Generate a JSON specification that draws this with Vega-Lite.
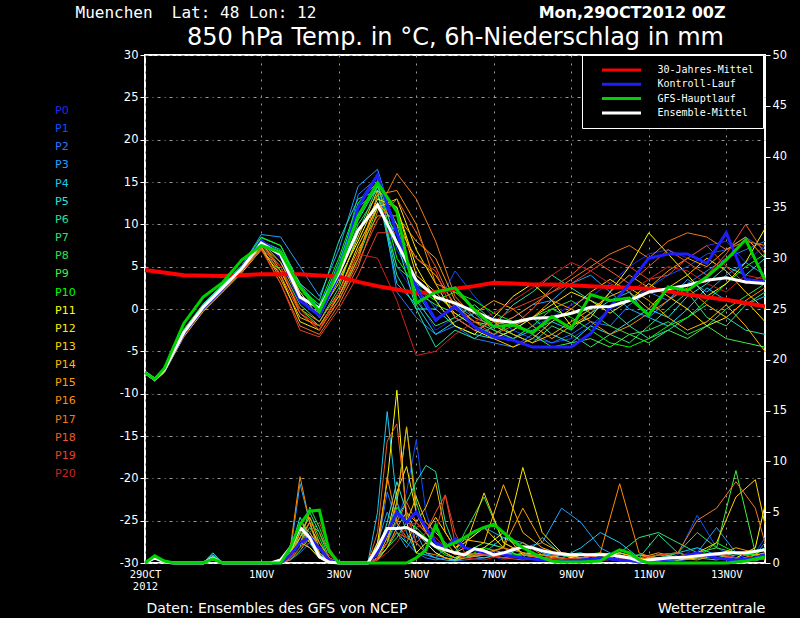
{
  "$schema": "https://vega.github.io/schema/vega-lite/v6.json",
  "description": "GFS ensemble for Muenchen: 850 hPa temperature and 6h precipitation, run 29 Oct 2012 00Z.",
  "width": 620,
  "height": 508,
  "autosize": {"type": "none"},
  "padding": {"left": 145, "top": 55, "right": 35, "bottom": 55},
  "background": "black",
  "config": {
    "font": "DejaVu Sans",
    "view": {"stroke": "white", "strokeWidth": 2, "fill": "black"},
    "axis": {
      "labelColor": "white",
      "titleColor": "white",
      "tickColor": "white",
      "labelFont": "DejaVu Sans",
      "titleFont": "DejaVu Sans",
      "titleFontWeight": "normal",
      "domain": false
    },
    "legend": {"labelColor": "white", "labelFont": "DejaVu Sans"}
  },
  "datasets": {
    "members": [
      {"m": "P0", "th": [0,6,12,24,36,48,60,72,84,96,108,120,132,144,156,168,180,192,204,216,228,240,252,264,276,288,300,312,324,336,348,360,372,384], "T": [-7.5,-8.3,-7.2,-2.8,0.2,2.5,4.8,7.9,6.0,1.0,-0.5,3.5,11.0,15.0,5.0,1.5,-2.5,-1.0,-2.5,-3.0,-3.5,-2.0,-1.0,0.5,1.5,3.0,5.0,6.5,7.0,6.0,7.5,8.0,5.5,7.5], "ph": [0,6,12,18,36,42,48,84,90,96,102,108,114,120,138,144,150,156,162,168,174,180,186,192,198,210,222,234,246,258,270,282,294,306,318,330,342,354,366,378,384], "P": [0,0.4,0.1,0,0,0.5,0,0,0.8,2.5,1.5,0.5,0.2,0,0,1.0,3.0,6.0,4.0,2.0,1.0,0.5,0.8,0.3,0.5,1.0,0.3,0.8,1.5,0.4,0.2,0.5,0.3,0,0.2,0.5,1.5,0.8,0.3,0.6,1.0]},
      {"m": "P1", "th": [0,6,12,24,36,48,60,72,84,96,108,120,132,144,156,168,180,192,204,216,228,240,252,264,276,288,300,312,324,336,348,360,372,384], "T": [-7.5,-8.2,-7.1,-2.6,0.4,2.7,5.0,8.2,6.5,2.0,0.5,5.0,12.5,16.0,7.0,3.0,0.0,4.5,1.5,-1.0,-2.5,-3.5,-4.0,-3.5,-2.0,0.0,1.0,2.5,4.0,5.0,6.5,7.0,8.5,7.0], "ph": [0,6,12,18,36,42,48,84,90,96,102,108,114,120,138,144,150,156,162,168,174,180,186,192,198,210,222,234,246,258,270,282,294,306,318,330,342,354,366,378,384], "P": [0,0.5,0.2,0,0,0.4,0,0,0.5,1.5,3.0,1.0,0.3,0,0,0.5,2.0,4.0,7.0,12.1,5.0,2.0,1.0,0.5,1.0,2.0,1.5,0.5,0.8,1.0,0.3,0.2,0.5,0.3,0.2,0.8,4.7,1.5,0.5,1.0,2.5]},
      {"m": "P2", "th": [0,6,12,24,36,48,60,72,84,96,108,120,132,144,156,168,180,192,204,216,228,240,252,264,276,288,300,312,324,336,348,360,372,384], "T": [-7.6,-8.4,-7.3,-3.0,0.0,2.3,4.6,7.5,5.5,1.5,-1.0,4.0,13.5,15.5,2.0,-1.0,-3.0,-2.0,-3.5,-4.0,-4.5,-3.0,-4.0,-3.0,-1.5,-2.0,0.5,2.0,1.0,3.0,4.5,6.0,7.0,8.0], "ph": [0,6,12,18,36,42,48,84,90,96,102,108,114,120,138,144,150,156,162,168,174,180,186,192,198,210,222,234,246,258,270,282,294,306,318,330,342,354,366,378,384], "P": [0,0.6,0.1,0,0,0.3,0,0,0.3,1.0,2.0,0.8,0.1,0,0,1.5,7.0,4.0,2.0,1.0,0.5,0.3,0.5,0.2,0.3,0.5,0.8,1.5,0.5,0.3,0.2,0.4,0.8,0.5,0.3,0.2,0.5,1.0,0.5,0.3,0.8]},
      {"m": "P3", "th": [0,6,12,24,36,48,60,72,84,96,108,120,132,144,156,168,180,192,204,216,228,240,252,264,276,288,300,312,324,336,348,360,372,384], "T": [-7.5,-8.2,-7.0,-2.5,0.5,2.8,5.1,8.8,8.5,5.0,1.5,7.0,14.5,16.5,9.0,2.0,-1.5,0.5,-1.0,-2.0,-1.0,0.5,1.0,3.0,4.0,2.0,0.0,-1.0,1.0,3.5,2.0,4.0,5.5,4.0], "ph": [0,6,12,18,36,42,48,84,90,96,102,108,114,120,138,144,150,156,162,168,174,180,186,192,198,210,222,234,246,258,270,282,294,306,318,330,342,354,366,378,384], "P": [0,0.5,0.2,0,0,0.8,0,0,1.0,7.8,4.0,1.0,0.3,0,0,2.0,5.0,3.0,1.5,3.0,1.0,0.5,1.5,1.0,2.0,3.5,2.5,1.5,2.0,5.4,4.0,1.5,0.5,0.3,0.8,0.5,1.0,3.5,1.0,0.8,2.0]},
      {"m": "P4", "th": [0,6,12,24,36,48,60,72,84,96,108,120,132,144,156,168,180,192,204,216,228,240,252,264,276,288,300,312,324,336,348,360,372,384], "T": [-7.5,-8.3,-7.2,-2.7,0.3,2.6,4.9,8.0,7.0,3.0,0.0,5.5,12.0,14.0,3.0,0.5,-3.0,-1.5,-0.5,-2.5,-3.5,-2.5,-1.5,-2.5,-0.5,1.0,2.0,-1.0,-2.0,0.0,2.5,1.0,0.5,1.5], "ph": [0,6,12,18,36,42,48,84,90,96,102,108,114,120,138,144,150,156,162,168,174,180,186,192,198,210,222,234,246,258,270,282,294,306,318,330,342,354,366,378,384], "P": [0,0.4,0.1,0,0,0.5,0,0,0.5,3.0,2.0,0.5,0,0,0,5.0,14.9,6.0,3.0,1.0,0.8,0.5,0.3,0.2,0.5,1.0,2.5,2.0,1.0,0.5,1.5,3.0,2.0,0.5,0.3,1.0,1.5,0.8,0.5,0.2,0.5]},
      {"m": "P5", "th": [0,6,12,24,36,48,60,72,84,96,108,120,132,144,156,168,180,192,204,216,228,240,252,264,276,288,300,312,324,336,348,360,372,384], "T": [-7.6,-8.3,-7.3,-2.9,0.1,2.4,4.7,7.6,6.5,2.5,-0.5,4.5,10.5,14.5,8.0,0.0,0.0,-2.0,-3.0,-3.5,-2.5,-1.0,-3.0,-4.0,-2.0,-3.0,-1.5,0.0,-1.0,1.5,3.0,5.0,4.0,6.0], "ph": [0,6,12,18,36,42,48,84,90,96,102,108,114,120,138,144,150,156,162,168,174,180,186,192,198,210,222,234,246,258,270,282,294,306,318,330,342,354,366,378,384], "P": [0,0.6,0.2,0,0,1.0,0,0,1.2,4.5,2.5,0.8,0.2,0,0,1.0,4.0,8.0,5.0,3.0,2.0,1.0,0.5,0.3,0.8,0.5,1.0,0.5,0.3,0.8,1.0,0.5,0.3,0.8,0.5,0.3,0.8,1.0,0.5,0.3,0.5]},
      {"m": "P6", "th": [0,6,12,24,36,48,60,72,84,96,108,120,132,144,156,168,180,192,204,216,228,240,252,264,276,288,300,312,324,336,348,360,372,384], "T": [-7.4,-8.2,-7.0,-2.4,0.6,2.9,5.2,8.4,7.5,3.0,1.0,8.0,13.0,14.0,4.0,0.0,-4.5,-2.5,-3.5,-2.0,0.5,2.0,4.0,2.5,1.0,0.0,-2.0,-3.5,-2.5,-1.0,0.5,-1.0,-2.5,-3.0], "ph": [0,6,12,18,36,42,48,84,90,96,102,108,114,120,138,144,150,156,162,168,174,180,186,192,198,210,222,234,246,258,270,282,294,306,318,330,342,354,366,378,384], "P": [0,0.5,0.1,0,0,0.8,0,0,1.0,2.5,5.0,3.0,0.5,0,0,0.5,2.0,4.5,6.0,8.0,9.6,9.0,4.0,1.5,0.5,0.8,1.0,0.5,2.5,0.8,0.3,0.5,0.3,0.5,2.8,1.0,0.5,0.3,0.8,1.0,1.5]},
      {"m": "P7", "th": [0,6,12,24,36,48,60,72,84,96,108,120,132,144,156,168,180,192,204,216,228,240,252,264,276,288,300,312,324,336,348,360,372,384], "T": [-7.6,-8.4,-7.4,-3.1,-0.1,2.2,4.5,7.2,5.0,0.5,-1.5,2.5,9.0,14.5,10.0,1.0,-2.0,-1.0,0.5,-1.5,-3.0,-4.0,-2.0,-3.0,-4.5,-3.0,-4.0,-2.0,0.0,2.0,-1.0,-2.0,0.5,2.0], "ph": [0,6,12,18,36,42,48,84,90,96,102,108,114,120,138,144,150,156,162,168,174,180,186,192,198,210,222,234,246,258,270,282,294,306,318,330,342,354,366,378,384], "P": [0,0.4,0.1,0,0,0.6,0,0,0.8,2.0,3.5,2.0,0.5,0,0,0.3,1.5,3.0,2.0,4.0,3.0,2.0,1.0,0.5,1.0,0.8,0.5,1.0,0.5,0.3,0.5,0.8,1.0,2.5,3.0,2.0,1.0,0.5,1.0,0.8,0.5]},
      {"m": "P8", "th": [0,6,12,24,36,48,60,72,84,96,108,120,132,144,156,168,180,192,204,216,228,240,252,264,276,288,300,312,324,336,348,360,372,384], "T": [-7.5,-8.2,-7.1,-2.6,0.4,2.7,5.0,8.0,6.8,1.5,0.0,4.0,10.0,13.5,5.0,3.0,1.5,0.0,-1.5,-2.5,-3.5,-2.0,0.0,1.0,-0.5,-2.0,-3.0,-2.5,-1.5,-3.0,-2.0,0.0,1.5,3.0], "ph": [0,6,12,18,36,42,48,84,90,96,102,108,114,120,138,144,150,156,162,168,174,180,186,192,198,210,222,234,246,258,270,282,294,306,318,330,342,354,366,378,384], "P": [0,0.5,0.2,0,0,0.5,0,0,0.5,1.5,5.5,3.5,1.0,0,0,1.0,3.0,6.0,13.4,6.0,3.0,2.0,1.5,1.0,3.0,6.5,2.0,1.0,0.5,0.8,0.3,0.5,0.2,0.3,0.5,1.0,3.0,1.5,1.0,0.5,0.8]},
      {"m": "P9", "th": [0,6,12,24,36,48,60,72,84,96,108,120,132,144,156,168,180,192,204,216,228,240,252,264,276,288,300,312,324,336,348,360,372,384], "T": [-7.6,-8.5,-7.4,-3.2,-0.2,2.1,4.4,7.0,4.5,0.0,-2.0,1.5,6.0,12.0,9.0,2.0,0.5,-0.5,-2.0,-3.0,-1.5,-3.0,-4.5,-4.0,-3.5,-4.5,-3.0,-4.0,-2.5,-3.5,-2.0,-3.5,-4.0,-4.5], "ph": [0,6,12,18,36,42,48,84,90,96,102,108,114,120,138,144,150,156,162,168,174,180,186,192,198,210,222,234,246,258,270,282,294,306,318,330,342,354,366,378,384], "P": [0,0.6,0.1,0,0,0.4,0,0,0.3,1.2,2.5,1.0,0.2,0,0,0.5,1.5,2.5,4.0,5.0,3.0,1.5,1.0,0.5,1.0,2.0,1.5,0.5,0.3,0.5,0.2,0.3,0.5,0.8,0.5,0.3,1.0,1.5,9.1,1.0,0.5]},
      {"m": "P10", "th": [0,6,12,24,36,48,60,72,84,96,108,120,132,144,156,168,180,192,204,216,228,240,252,264,276,288,300,312,324,336,348,360,372,384], "T": [-7.4,-8.2,-7.0,-2.5,0.5,2.8,5.1,8.5,7.5,2.5,0.5,6.0,12.5,15.0,6.0,2.5,1.0,2.0,1.0,-0.5,-1.5,-1.0,0.0,-1.0,-2.5,-4.0,-4.5,-3.5,-2.0,-1.0,1.0,3.0,5.0,6.5], "ph": [0,6,12,18,36,42,48,84,90,96,102,108,114,120,138,144,150,156,162,168,174,180,186,192,198,210,222,234,246,258,270,282,294,306,318,330,342,354,366,378,384], "P": [0,0.7,0.2,0,0,0.6,0,0,1.0,3.0,4.5,2.5,0.3,0,0,0.8,2.0,5.5,4.0,3.5,2.5,1.5,0.8,0.5,0.5,1.5,1.0,0.8,0.5,0.3,0.8,1.0,0.5,0.3,0.8,1.0,0.5,2.0,1.0,0.8,1.5]},
      {"m": "P11", "th": [0,6,12,24,36,48,60,72,84,96,108,120,132,144,156,168,180,192,204,216,228,240,252,264,276,288,300,312,324,336,348,360,372,384], "T": [-7.5,-8.3,-7.2,-2.8,0.2,2.5,4.8,7.8,6.5,2.0,-1.0,3.5,8.0,13.0,12.0,5.0,1.0,-2.0,-3.0,-1.0,1.5,3.0,1.0,-2.0,-1.0,2.0,5.0,9.0,6.5,4.0,1.5,3.0,5.5,9.5], "ph": [0,6,12,18,36,42,48,84,90,96,102,108,114,120,138,144,150,156,162,168,174,180,186,192,198,210,222,234,246,258,270,282,294,306,318,330,342,354,366,378,384], "P": [0,0.4,0.1,0,0,0.3,0,0,0.5,2.0,1.5,0.5,0,0,0,2.0,8.0,17.0,4.0,1.0,2.0,1.0,0.5,0.3,1.0,1.5,3.0,0.8,0.5,0.3,0.8,0.5,1.0,0.5,0.3,0.5,1.0,0.8,0.5,1.5,5.7]},
      {"m": "P12", "th": [0,6,12,24,36,48,60,72,84,96,108,120,132,144,156,168,180,192,204,216,228,240,252,264,276,288,300,312,324,336,348,360,372,384], "T": [-7.6,-8.5,-7.5,-3.3,-0.3,2.0,4.3,7.0,4.0,-1.5,-2.5,2.0,7.5,12.0,13.0,7.0,3.0,-1.0,-2.5,-3.5,-2.5,-1.0,0.5,2.0,1.0,-0.5,1.0,3.0,1.5,0.0,-2.0,-1.0,1.0,-1.5], "ph": [0,6,12,18,36,42,48,84,90,96,102,108,114,120,138,144,150,156,162,168,174,180,186,192,198,210,222,234,246,258,270,282,294,306,318,330,342,354,366,378,384], "P": [0,0.5,0.1,0,0,0.5,0,0,0.8,3.5,2.0,1.0,0.2,0,0,1.0,3.0,7.0,9.5,5.0,3.0,4.5,3.0,1.5,2.0,3.5,1.5,9.4,3.0,1.0,0.5,0.8,0.3,0.2,0.5,0.3,0.5,0.8,1.0,0.5,0.8]},
      {"m": "P13", "th": [0,6,12,24,36,48,60,72,84,96,108,120,132,144,156,168,180,192,204,216,228,240,252,264,276,288,300,312,324,336,348,360,372,384], "T": [-7.5,-8.3,-7.1,-2.7,0.3,2.6,4.9,7.9,5.5,1.0,-0.5,3.0,8.5,14.0,12.0,4.0,2.0,-0.5,-2.0,-3.5,-4.5,-3.5,-1.5,0.0,2.0,3.5,2.0,0.0,2.5,4.0,6.0,4.5,2.0,0.0], "ph": [0,6,12,18,36,42,48,84,90,96,102,108,114,120,138,144,150,156,162,168,174,180,186,192,198,210,222,234,246,258,270,282,294,306,318,330,342,354,366,378,384], "P": [0,0.6,0.2,0,0,0.4,0,0,0.5,2.5,4.0,1.5,0.3,0,0,0.5,2.5,5.0,4.0,6.5,4.0,3.0,2.0,1.0,1.5,6.9,2.0,1.0,0.8,0.5,0.3,0.5,0.8,0.3,0.2,0.5,1.0,2.0,6.5,8.2,3.8]},
      {"m": "P14", "th": [0,6,12,24,36,48,60,72,84,96,108,120,132,144,156,168,180,192,204,216,228,240,252,264,276,288,300,312,324,336,348,360,372,384], "T": [-7.6,-8.4,-7.3,-3.0,0.0,2.3,4.6,7.4,3.5,-1.0,-2.0,1.5,6.5,12.5,10.0,6.0,4.0,0.5,-1.5,-2.0,-3.0,-4.0,-3.0,-1.5,0.0,1.5,2.5,1.0,-1.0,-2.5,-1.5,0.5,-2.0,-5.0], "ph": [0,6,12,18,36,42,48,84,90,96,102,108,114,120,138,144,150,156,162,168,174,180,186,192,198,210,222,234,246,258,270,282,294,306,318,330,342,354,366,378,384], "P": [0,0.5,0.1,0,0,0.5,0,0,1.0,4.0,3.0,1.5,0.5,0,0,0.3,1.5,3.5,5.0,4.0,5.5,7.9,3.0,1.5,2.3,2.0,7.7,3.0,1.5,0.8,0.5,0.3,1.0,0.5,0.3,0.5,0.8,0.5,0.3,0.8,1.0]},
      {"m": "P15", "th": [0,6,12,24,36,48,60,72,84,96,108,120,132,144,156,168,180,192,204,216,228,240,252,264,276,288,300,312,324,336,348,360,372,384], "T": [-7.5,-8.2,-7.1,-2.6,0.4,2.7,5.0,8.0,4.5,0.0,-1.5,2.0,7.0,11.0,11.0,8.0,6.0,1.0,-0.5,1.0,0.0,-2.0,-3.5,-2.0,-0.5,2.0,4.0,2.5,4.5,6.0,5.0,7.0,8.5,6.0], "ph": [0,6,12,18,36,42,48,84,90,96,102,108,114,120,138,144,150,156,162,168,174,180,186,192,198,210,222,234,246,258,270,282,294,306,318,330,342,354,366,378,384], "P": [0,0.4,0.1,0,0,0.6,0,0,0.5,3.0,4.5,2.0,0.5,0,0,0.5,2.0,6.0,13.4,5.0,3.0,2.0,1.0,0.5,0.8,1.0,1.5,5.4,2.0,1.0,0.8,0.5,0.3,0.5,1.0,0.5,0.3,0.8,1.5,1.0,0.5]},
      {"m": "P16", "th": [0,6,12,24,36,48,60,72,84,96,108,120,132,144,156,168,180,192,204,216,228,240,252,264,276,288,300,312,324,336,348,360,372,384], "T": [-7.5,-8.3,-7.2,-2.8,0.2,2.5,4.8,7.7,5.0,-0.5,-2.5,1.0,6.0,13.5,14.0,10.0,3.0,2.0,0.0,-1.5,-2.0,-1.0,1.0,0.0,-1.5,-3.0,-2.0,-0.5,1.0,2.5,0.5,-1.0,1.0,2.5], "ph": [0,6,12,18,36,42,48,84,90,96,102,108,114,120,138,144,150,156,162,168,174,180,186,192,198,210,222,234,246,258,270,282,294,306,318,330,342,354,366,378,384], "P": [0,0.5,0.2,0,0,0.4,0,0,1.5,8.5,4.0,1.0,0.3,0,0,1.0,8.5,4.0,2.5,2.0,1.0,0.8,0.5,0.3,0.5,0.8,1.0,2.0,0.8,0.5,0.3,1.0,7.8,1.0,0.3,0.5,0.8,0.5,0.3,0.5,0.8]},
      {"m": "P17", "th": [0,6,12,24,36,48,60,72,84,96,108,120,132,144,156,168,180,192,204,216,228,240,252,264,276,288,300,312,324,336,348,360,372,384], "T": [-7.6,-8.4,-7.4,-3.1,-0.1,2.2,4.5,7.2,3.0,-2.0,-3.0,0.5,5.0,11.5,16.0,13.0,8.0,1.5,-1.0,-2.0,-1.0,0.5,2.0,3.5,5.0,6.5,7.5,6.0,8.0,9.0,8.5,7.0,8.0,7.5], "ph": [0,6,12,18,36,42,48,84,90,96,102,108,114,120,138,144,150,156,162,168,174,180,186,192,198,210,222,234,246,258,270,282,294,306,318,330,342,354,366,378,384], "P": [0,0.4,0.1,0,0,0.5,0,0,0.8,2.0,4.0,3.0,1.0,0,0,0.8,3.0,4.0,6.0,4.0,3.0,2.0,1.5,0.8,1.0,0.8,1.5,1.0,0.5,0.3,0.5,1.0,0.5,0.3,0.8,1.0,4.2,5.4,8.0,5.4,2.0]},
      {"m": "P18", "th": [0,6,12,24,36,48,60,72,84,96,108,120,132,144,156,168,180,192,204,216,228,240,252,264,276,288,300,312,324,336,348,360,372,384], "T": [-7.5,-8.3,-7.1,-2.7,0.3,2.6,4.9,7.9,4.0,-0.5,-2.0,1.0,5.5,10.5,13.0,9.0,5.0,0.0,-1.5,-3.0,-2.0,0.0,2.5,4.0,6.0,4.5,3.0,5.0,7.0,5.5,4.0,6.5,10.0,6.5], "ph": [0,6,12,18,36,42,48,84,90,96,102,108,114,120,138,144,150,156,162,168,174,180,186,192,198,210,222,234,246,258,270,282,294,306,318,330,342,354,366,378,384], "P": [0,0.6,0.2,0,0,0.6,0,0,0.3,1.5,2.5,1.5,0.5,0,0,3.0,12.0,13.7,5.0,2.0,3.0,5.0,6.7,2.0,1.5,1.0,0.5,0.8,0.5,0.3,0.5,0.8,0.3,0.2,0.3,0.5,1.0,0.8,0.5,0.3,0.5]},
      {"m": "P19", "th": [0,6,12,24,36,48,60,72,84,96,108,120,132,144,156,168,180,192,204,216,228,240,252,264,276,288,300,312,324,336,348,360,372,384], "T": [-7.6,-8.5,-7.4,-3.2,-0.2,2.1,4.4,7.0,3.0,-2.5,-3.3,0.0,4.0,9.0,9.0,6.0,4.5,-1.0,-2.5,-1.5,0.0,1.0,2.0,3.0,4.5,6.0,5.0,3.5,4.0,6.0,7.5,5.0,3.0,4.0], "ph": [0,6,12,18,36,42,48,84,90,96,102,108,114,120,138,144,150,156,162,168,174,180,186,192,198,210,222,234,246,258,270,282,294,306,318,330,342,354,366,378,384], "P": [0,0.5,0.1,0,0,0.5,0,0,0.5,2.0,3.0,4.0,1.5,0,0,0.5,2.0,3.0,2.5,3.5,4.0,3.0,6.7,3.0,1.0,0.8,0.5,0.3,0.5,1.0,0.8,0.5,0.3,0.5,0.8,1.0,0.5,0.8,1.0,0.5,0.3]},
      {"m": "P20", "th": [0,6,12,24,36,48,60,72,84,96,108,120,132,144,156,168,180,192,204,216,228,240,252,264,276,288,300,312,324,336,348,360,372,384], "T": [-7.5,-8.3,-7.2,-2.8,0.2,2.5,4.8,7.5,5.0,0.0,-2.5,2.0,6.5,6.0,1.0,-5.5,-5.0,-3.0,-1.5,-0.5,1.0,2.5,4.0,5.5,4.5,3.0,2.0,3.5,5.0,4.5,3.0,2.0,4.0,3.5], "ph": [0,6,12,18,36,42,48,84,90,96,102,108,114,120,138,144,150,156,162,168,174,180,186,192,198,210,222,234,246,258,270,282,294,306,318,330,342,354,366,378,384], "P": [0,0.4,0.1,0,0,0.6,0,0,0.5,1.5,2.0,1.5,0.8,0,0,0.3,1.0,2.0,3.5,4.0,3.0,2.5,1.5,1.0,0.5,0.3,0.8,0.5,0.3,0.5,0.3,0.2,0.5,0.3,0.2,0.5,0.8,1.0,0.5,0.3,0.5]}
    ],
    "main": [
      {"s": "30-Jahres-Mittel", "th": [0,24,48,72,96,120,132,144,156,168,180,192,204,216,228,240,252,264,276,288,300,312,324,336,348,360,372,384], "T": [4.6,4.0,3.9,4.1,4.1,3.8,3.2,2.7,2.3,1.9,2.0,2.4,2.7,3.1,3.0,2.9,2.9,2.8,2.7,2.6,2.5,2.4,2.1,1.7,1.4,1.1,0.7,0.3], "ph": [], "P": []},
      {"s": "Kontroll-Lauf", "th": [0,6,12,24,36,48,60,72,84,96,108,120,132,144,156,168,180,192,204,216,228,240,252,264,276,288,300,312,324,336,348,360,372,384], "T": [-7.5,-8.3,-7.2,-2.9,0.1,2.4,4.9,8.0,6.5,1.0,-0.8,4.0,12.0,15.8,9.0,2.6,-1.3,0.3,-2.1,-3.3,-3.7,-4.5,-4.5,-4.5,-2.9,0.2,3.0,6.0,6.5,6.5,5.4,9.0,3.5,3.2], "ph": [0,6,12,18,36,42,48,84,90,96,102,108,114,120,138,144,150,156,162,168,174,180,186,192,198,210,222,234,246,258,270,282,294,306,318,330,342,354,366,378,384], "P": [0,0.5,0.1,0,0,0.5,0,0,0.8,2.0,2.5,1.5,0.3,0,0,1.0,3.0,5.0,4.0,5.0,3.5,2.0,1.5,2.4,1.5,1.0,0.8,0.5,0.3,0.2,0.3,0.5,0.3,0.2,0.3,0.5,1.0,0.5,0.3,0.5,0.8]},
      {"s": "Ensemble-Mittel", "th": [0,6,12,24,36,48,60,72,84,96,108,120,132,144,156,168,180,192,204,216,228,240,252,264,276,288,300,312,324,336,348,360,372,384], "T": [-7.5,-8.3,-7.2,-2.8,0.2,2.5,4.8,7.8,6.4,1.4,0.1,4.2,9.3,12.3,7.8,3.4,1.4,0.7,-0.3,-1.3,-1.6,-1.1,-1.0,-0.5,0.2,0.3,1.0,2.0,2.4,2.8,3.4,3.7,3.2,3.0], "ph": [0,6,12,18,36,42,48,78,84,90,96,102,108,114,120,138,144,150,156,162,168,174,180,186,192,198,204,210,216,222,228,234,240,246,252,258,264,276,288,300,306,312,324,336,348,360,372,384], "P": [0,0.5,0.1,0,0,0.5,0,0,0.3,1.5,3.5,2.5,0.6,0.1,0,0,1.5,3.4,3.4,3.5,3.0,2.3,1.6,1.3,1.0,0.8,1.4,1.2,0.8,1.0,1.3,1.6,1.5,1.2,1.0,0.9,0.8,0.8,0.8,0.5,0.2,0.3,0.5,0.6,0.8,1.0,1.0,1.3]},
      {"s": "GFS-Hauptlauf", "th": [0,6,12,24,36,48,60,72,84,96,108,120,132,144,156,168,180,192,204,216,228,240,252,264,276,288,300,312,324,336,348,360,372,384], "T": [-7.5,-8.3,-7.0,-1.7,1.4,3.1,5.8,7.5,6.7,2.6,-0.3,4.6,11.0,14.9,11.5,0.7,2.0,2.5,-0.1,-2.1,-1.9,-2.8,-0.9,-2.3,1.7,1.0,1.3,-0.7,2.6,2.2,3.8,5.8,8.2,3.4], "ph": [0,6,12,18,36,42,48,84,90,96,102,108,114,120,156,162,168,174,180,186,192,198,204,210,216,222,228,234,240,246,252,258,270,282,288,294,300,306,312,360,366,372,378,384], "P": [0,0.7,0.2,0,0,0.4,0,0,1.5,3.8,5.1,5.2,1.2,0,0,0,0.5,1.3,3.7,1.6,2.0,2.5,3.1,3.5,3.8,3.0,2.2,1.5,1.0,0.5,0.2,0.1,0.1,0.2,0.8,1.3,1.0,0.3,0,0,0.1,0.2,0.4,0.6]}
    ]
  },
  "layer": [
    {
      "data": {"name": "members"},
      "transform": [{"flatten": ["th", "T"], "as": ["h", "T"]}],
      "mark": {"type": "line", "strokeWidth": 1},
      "encoding": {
        "x": {
          "field": "h", "type": "quantitative",
          "scale": {"domain": [0, 384], "nice": false, "zero": false},
          "axis": {
            "orient": "bottom",
            "values": [0, 72, 120, 168, 216, 264, 312, 360],
            "labelExpr": "datum.value == 0 ? ['29OCT', '2012'] : (datum.value / 24 - 2) + 'NOV'",
            "labelFlush": false,
            "labelOverlap": false,
            "labelFont": "DejaVu Sans Mono",
            "labelFontSize": 10.5,
            "labelLineHeight": 12,
            "labelPadding": 6,
            "ticks": false,
            "grid": true,
            "gridColor": "#9a9a9a",
            "gridDash": [2, 6],
            "title": "Daten: Ensembles des GFS von NCEP",
            "titleX": 1,
            "titleY": 49,
            "titleAlign": "left",
            "titleBaseline": "alphabetic",
            "titleFontSize": 14
          }
        },
        "y": {
          "field": "T", "type": "quantitative",
          "scale": {"domain": [-30, 30], "nice": false, "zero": false},
          "axis": {
            "orient": "left",
            "values": [-30, -25, -20, -15, -10, -5, 0, 5, 10, 15, 20, 25, 30],
            "labelExpr": "'' + datum.value",
            "labelFontSize": 11.5,
            "labelPadding": 2,
            "tickSize": 5,
            "grid": true,
            "gridColor": "#9a9a9a",
            "gridDash": [3, 4, 1, 4],
            "title": "Muenchen\u00a0\u00a0Lat: 48 Lon: 12",
            "titleAngle": 0,
            "titleX": -70,
            "titleY": -38,
            "titleAlign": "left",
            "titleBaseline": "alphabetic",
            "titleFont": "DejaVu Sans Mono",
            "titleFontSize": 16
          }
        },
        "stroke": {
          "field": "m", "type": "nominal",
          "scale": {
            "domain": ["P0","P1","P2","P3","P4","P5","P6","P7","P8","P9","P10","P11","P12","P13","P14","P15","P16","P17","P18","P19","P20"],
            "range": ["#2828e8","#0a50ff","#2878ff","#20a0ff","#18c8f0","#28e0d8","#20e0a0","#30e078","#30e050","#40f040","#00ff00","#ffff00","#ffe800","#ffd000","#ffb800","#ffa000","#ff8c00","#f07818","#f05a28","#e84028","#d02020"]
          },
          "legend": {
            "orient": "none",
            "legendX": -101,
            "legendY": 50.5,
            "title": null,
            "symbolSize": 0,
            "symbolStrokeWidth": 0,
            "symbolOpacity": 0,
            "labelOffset": 0,
            "padding": 0,
            "rowPadding": 6.15,
            "labelFontSize": 11,
            "encode": {"labels": {"update": {"fill": {"scale": "stroke", "field": "value"}}}}
          }
        }
      }
    },
    {
      "data": {"name": "main"},
      "transform": [{"filter": "datum.s == '30-Jahres-Mittel'"}, {"flatten": ["th", "T"], "as": ["h", "T"]}],
      "mark": {"type": "line", "strokeWidth": 4},
      "encoding": {
        "x": {
          "field": "h", "type": "quantitative",
          "scale": {"domain": [0, 384], "nice": false, "zero": false},
          "axis": {
            "orient": "top",
            "labels": false,
            "ticks": false,
            "grid": false,
            "title": "850 hPa Temp. in °C, 6h-Niederschlag in mm",
            "titleX": 310,
            "titleY": -11,
            "titleAlign": "center",
            "titleBaseline": "alphabetic",
            "titleFontSize": 24
          }
        },
        "y": {"field": "T", "type": "quantitative", "scale": {"domain": [-30, 30], "nice": false, "zero": false}, "axis": null},
        "color": {
          "field": "s", "type": "nominal",
          "scale": {
            "domain": ["30-Jahres-Mittel", "Kontroll-Lauf", "GFS-Hauptlauf", "Ensemble-Mittel"],
            "range": ["#ff0000", "#1e1eff", "#00d200", "#ffffff"]
          },
          "legend": {
            "orient": "none",
            "legendX": 437,
            "legendY": 0,
            "title": null,
            "symbolType": "M-3.9,0H3.9",
            "symbolSize": 100,
            "symbolStrokeWidth": 3,
            "symbolOffset": 24.5,
            "labelOffset": 29.5,
            "padding": 8.5,
            "rowPadding": 1.3,
            "labelFont": "DejaVu Sans Mono",
            "labelFontSize": 10,
            "strokeColor": "white",
            "fillColor": "black"
          }
        }
      }
    },
    {
      "data": {"name": "main"},
      "transform": [{"filter": "datum.s == 'Kontroll-Lauf'"}, {"flatten": ["th", "T"], "as": ["h", "T"]}],
      "mark": {"type": "line", "strokeWidth": 3},
      "encoding": {
        "x": {"field": "h", "type": "quantitative", "scale": {"domain": [0, 384], "nice": false, "zero": false}, "axis": null},
        "y": {"field": "T", "type": "quantitative", "scale": {"domain": [-30, 30], "nice": false, "zero": false}, "axis": null},
        "color": {"field": "s", "type": "nominal", "legend": null}
      }
    },
    {
      "data": {"name": "main"},
      "transform": [{"filter": "datum.s == 'Ensemble-Mittel'"}, {"flatten": ["th", "T"], "as": ["h", "T"]}],
      "mark": {"type": "line", "strokeWidth": 3},
      "encoding": {
        "x": {"field": "h", "type": "quantitative", "scale": {"domain": [0, 384], "nice": false, "zero": false}, "axis": null},
        "y": {"field": "T", "type": "quantitative", "scale": {"domain": [-30, 30], "nice": false, "zero": false}, "axis": null},
        "color": {"field": "s", "type": "nominal", "legend": null}
      }
    },
    {
      "data": {"name": "main"},
      "transform": [{"filter": "datum.s == 'GFS-Hauptlauf'"}, {"flatten": ["th", "T"], "as": ["h", "T"]}],
      "mark": {"type": "line", "strokeWidth": 3},
      "encoding": {
        "x": {"field": "h", "type": "quantitative", "scale": {"domain": [0, 384], "nice": false, "zero": false}, "axis": null},
        "y": {"field": "T", "type": "quantitative", "scale": {"domain": [-30, 30], "nice": false, "zero": false}, "axis": null},
        "color": {"field": "s", "type": "nominal", "legend": null}
      }
    },
    {
      "data": {"name": "members"},
      "transform": [{"flatten": ["ph", "P"], "as": ["h", "P"]}],
      "mark": {"type": "line", "strokeWidth": 1},
      "encoding": {
        "x": {
          "field": "h", "type": "quantitative",
          "scale": {"domain": [0, 384], "nice": false, "zero": false},
          "axis": {
            "orient": "bottom",
            "labels": false,
            "ticks": false,
            "grid": false,
            "title": "Wetterzentrale",
            "titleX": 620,
            "titleY": 49,
            "titleAlign": "right",
            "titleBaseline": "alphabetic",
            "titleFontSize": 14.5
          }
        },
        "y": {
          "field": "P", "type": "quantitative",
          "scale": {"domain": [0, 50], "nice": false, "zero": false},
          "axis": {
            "orient": "right",
            "values": [0, 5, 10, 15, 20, 25, 30, 35, 40, 45, 50],
            "labelFontSize": 11.5,
            "labelPadding": 2,
            "tickSize": 5,
            "grid": false,
            "title": "Mon,29OCT2012 00Z",
            "titleAngle": 0,
            "titleX": -40,
            "titleY": -38,
            "titleAlign": "right",
            "titleBaseline": "alphabetic",
            "titleFontSize": 16,
            "titleFontWeight": "bold"
          }
        },
        "stroke": {"field": "m", "type": "nominal", "legend": null}
      }
    },
    {
      "data": {"name": "main"},
      "transform": [{"filter": "datum.s == 'Kontroll-Lauf'"}, {"flatten": ["ph", "P"], "as": ["h", "P"]}],
      "mark": {"type": "line", "strokeWidth": 3},
      "encoding": {
        "x": {"field": "h", "type": "quantitative", "scale": {"domain": [0, 384], "nice": false, "zero": false}, "axis": null},
        "y": {"field": "P", "type": "quantitative", "scale": {"domain": [0, 50], "nice": false, "zero": false}, "axis": null},
        "color": {"field": "s", "type": "nominal", "legend": null}
      }
    },
    {
      "data": {"name": "main"},
      "transform": [{"filter": "datum.s == 'Ensemble-Mittel'"}, {"flatten": ["ph", "P"], "as": ["h", "P"]}],
      "mark": {"type": "line", "strokeWidth": 3},
      "encoding": {
        "x": {"field": "h", "type": "quantitative", "scale": {"domain": [0, 384], "nice": false, "zero": false}, "axis": null},
        "y": {"field": "P", "type": "quantitative", "scale": {"domain": [0, 50], "nice": false, "zero": false}, "axis": null},
        "color": {"field": "s", "type": "nominal", "legend": null}
      }
    },
    {
      "data": {"name": "main"},
      "transform": [{"filter": "datum.s == 'GFS-Hauptlauf'"}, {"flatten": ["ph", "P"], "as": ["h", "P"]}],
      "mark": {"type": "line", "strokeWidth": 3},
      "encoding": {
        "x": {"field": "h", "type": "quantitative", "scale": {"domain": [0, 384], "nice": false, "zero": false}, "axis": null},
        "y": {"field": "P", "type": "quantitative", "scale": {"domain": [0, 50], "nice": false, "zero": false}, "axis": null},
        "color": {"field": "s", "type": "nominal", "legend": null}
      }
    }
  ],
  "resolve": {"scale": {"y": "independent"}, "axis": {"x": "independent"}}
}
